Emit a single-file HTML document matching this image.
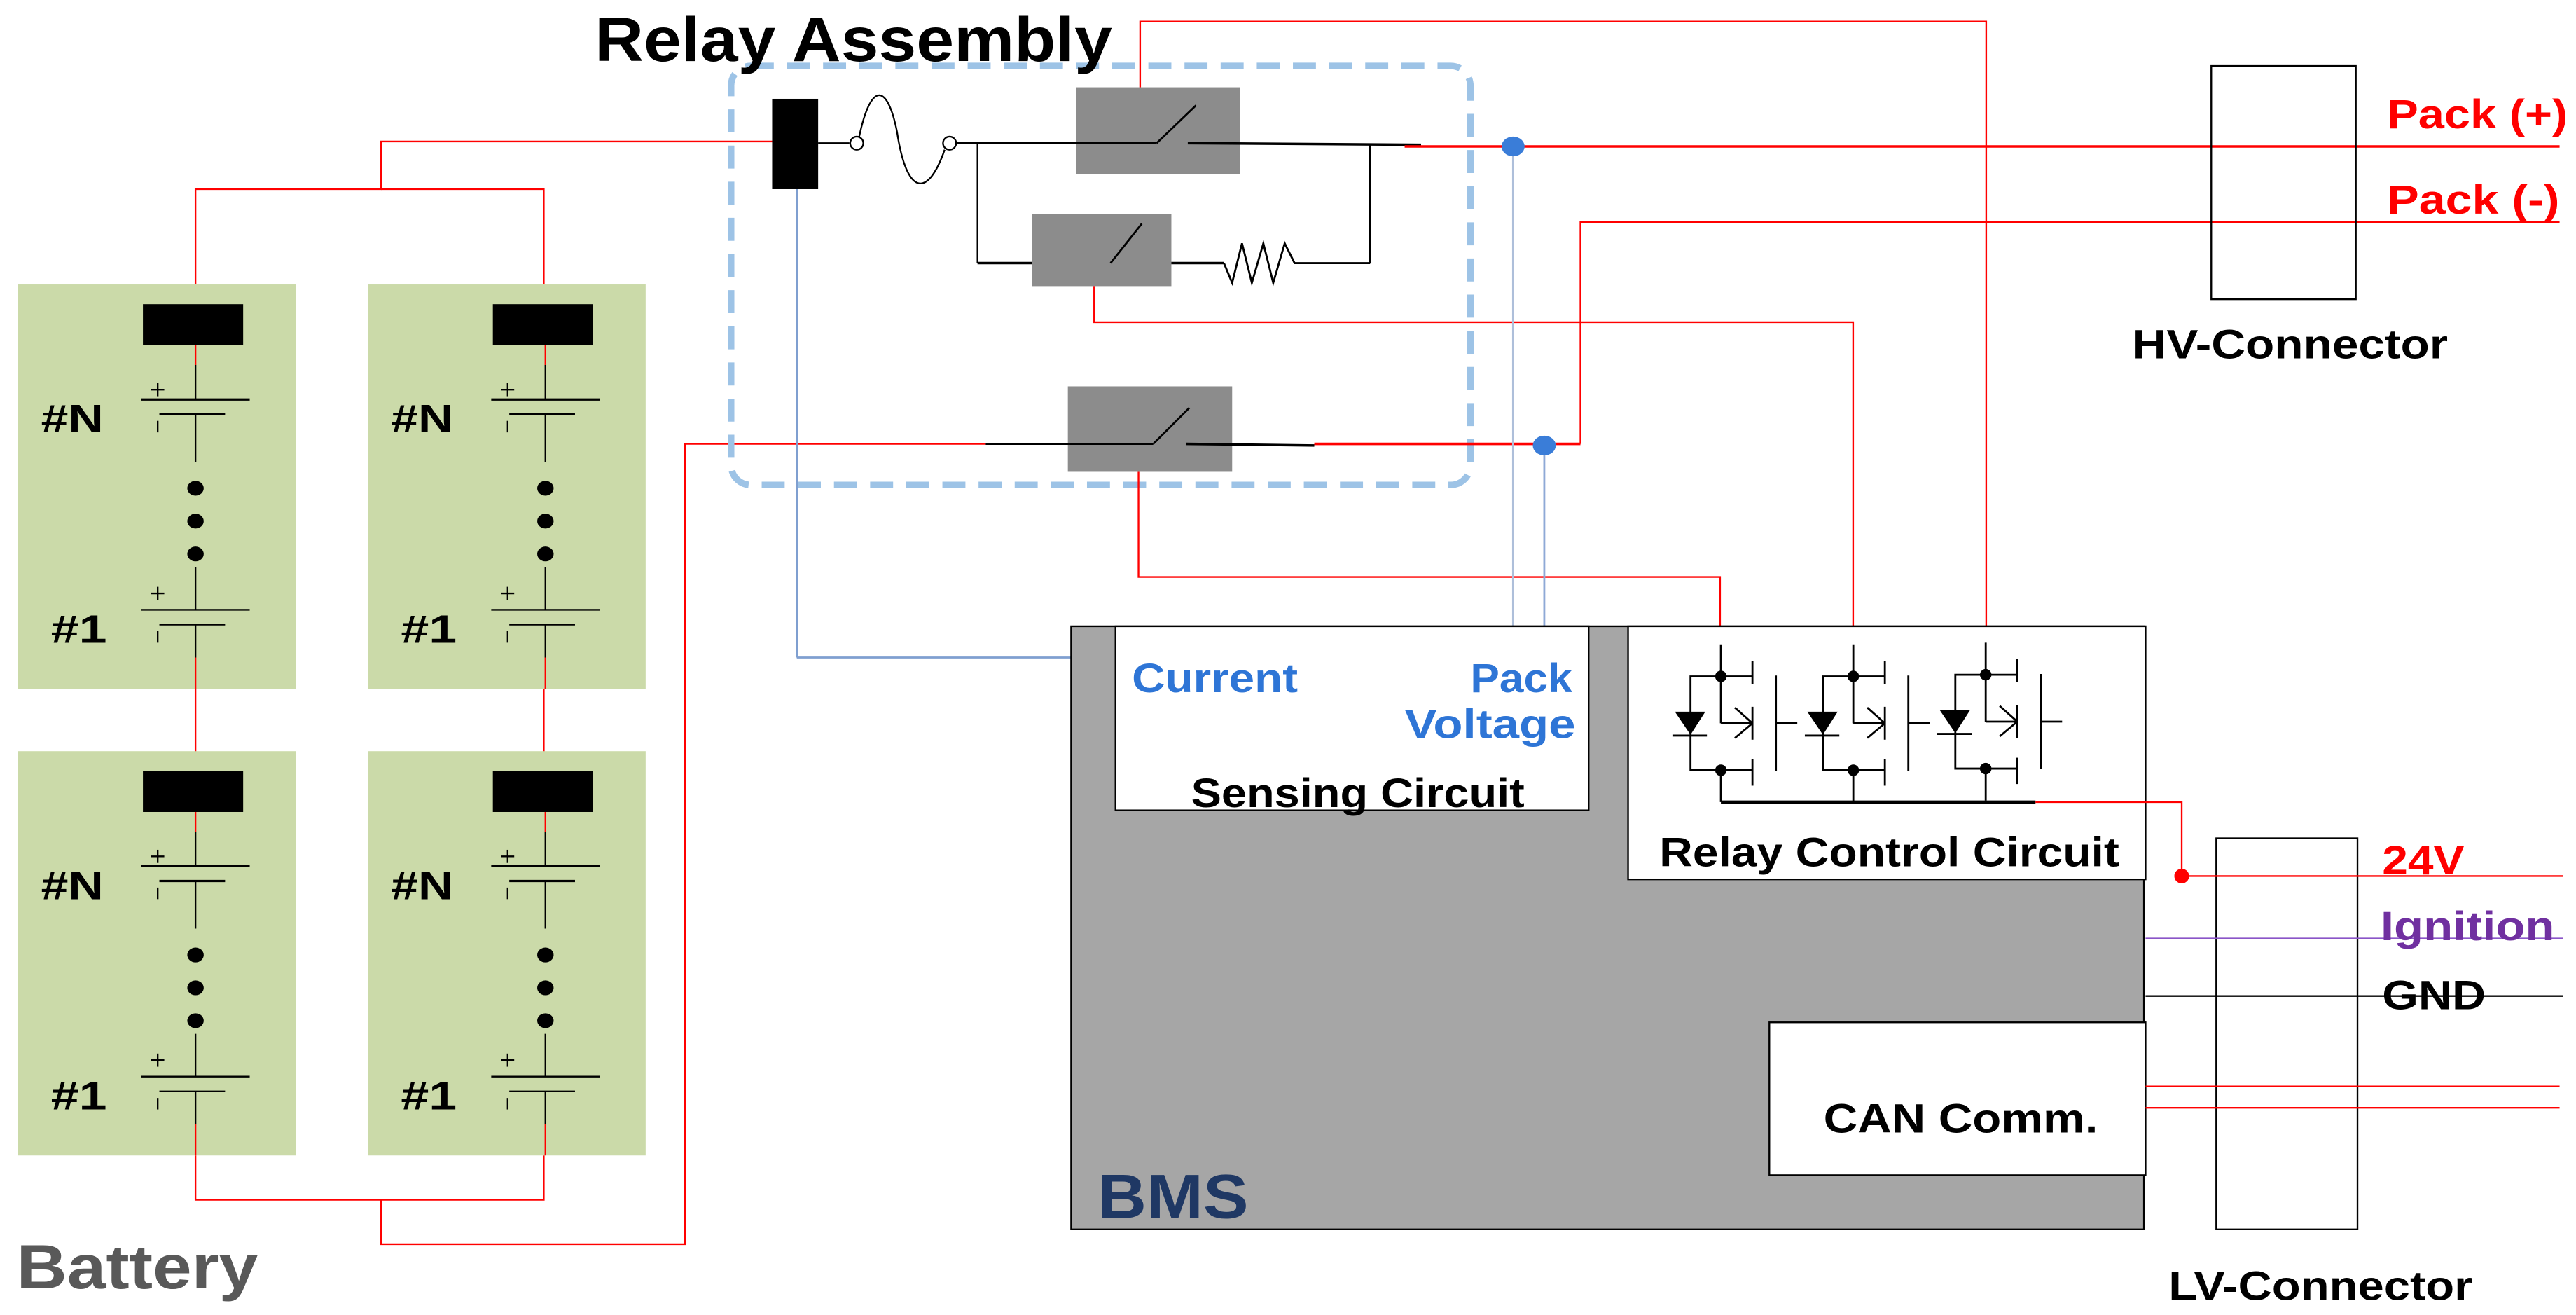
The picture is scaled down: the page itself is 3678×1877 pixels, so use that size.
<!DOCTYPE html>
<html><head><meta charset="utf-8"><style>
html,body{margin:0;padding:0;background:#fff}
svg{display:block}
text{font-family:"Liberation Sans",sans-serif;font-weight:bold}
</style></head><body>
<svg width="3678" height="1877" viewBox="0 0 1568 800" xmlns="http://www.w3.org/2000/svg">
<defs>
<g id="cell">
<rect x="11" y="173" width="169" height="246" fill="#cbdaa9"/>
<rect x="87" y="185" width="61" height="25" fill="#000"/>
<line x1="119" y1="210" x2="119" y2="222" stroke="#f00" stroke-width="1"/>
<g stroke="#000" stroke-width="1" fill="none">
<line x1="119" y1="222" x2="119" y2="243"/>
<line x1="86" y1="243" x2="152" y2="243" stroke-width="1.4"/>
<line x1="97" y1="252" x2="137" y2="252" stroke-width="1.4"/>
<line x1="119" y1="252" x2="119" y2="281"/>
<line x1="92" y1="237" x2="100" y2="237"/><line x1="96" y1="233" x2="96" y2="241"/>
<line x1="96" y1="256" x2="96" y2="263"/>
<line x1="119" y1="345" x2="119" y2="371"/>
<line x1="86" y1="371" x2="152" y2="371"/>
<line x1="97" y1="380" x2="137" y2="380"/>
<line x1="119" y1="380" x2="119" y2="400"/>
<line x1="92" y1="361" x2="100" y2="361"/><line x1="96" y1="357" x2="96" y2="365"/>
<line x1="96" y1="384" x2="96" y2="391"/>
</g>
<line x1="119" y1="400" x2="119" y2="419" stroke="#f00"/>
<ellipse cx="119" cy="297" rx="5" ry="4.5"/>
<ellipse cx="119" cy="317" rx="5" ry="4.5"/>
<ellipse cx="119" cy="337" rx="5" ry="4.5"/>
<text x="25" y="263" font-size="24" textLength="38" lengthAdjust="spacingAndGlyphs">#N</text>
<text x="31" y="391" font-size="24" textLength="34" lengthAdjust="spacingAndGlyphs">#1</text>
</g>
<g id="drv" stroke="#000" fill="none" stroke-width="1.2">
<polyline points="1047.5,392 1047.5,411.5 1029,411.5 1029,468.6 1047.5,468.6 1047.5,488"/>
<line x1="1047.5" y1="411.5" x2="1066.7" y2="411.5"/>
<line x1="1047.5" y1="468.6" x2="1066.7" y2="468.6"/>
<polygon points="1019.5,433 1038,433 1029,447" fill="#000" stroke="none"/>
<line x1="1018" y1="447.5" x2="1039" y2="447.5"/>
<line x1="1047.5" y1="411.5" x2="1047.5" y2="440"/>
<line x1="1047.5" y1="440" x2="1066.7" y2="440"/>
<line x1="1056" y1="430.5" x2="1066.7" y2="440"/><line x1="1056" y1="449" x2="1066.7" y2="440"/>
<line x1="1066.7" y1="402" x2="1066.7" y2="416"/>
<line x1="1066.7" y1="430" x2="1066.7" y2="450"/>
<line x1="1066.7" y1="462" x2="1066.7" y2="478"/>
<line x1="1081" y1="411" x2="1081" y2="469"/>
<line x1="1081" y1="440" x2="1094" y2="440"/>
<circle cx="1047.5" cy="411.5" r="3.5" fill="#000" stroke="none"/>
<circle cx="1047.5" cy="468.6" r="3.5" fill="#000" stroke="none"/>
</g>
</defs>

<g stroke="#f00" fill="none" stroke-width="1">
<polyline points="470,86 232,86 232,115 119,115 119,173"/>
<polyline points="232,115 331,115 331,173"/>
<line x1="119" y1="419" x2="119" y2="458"/>
<line x1="331" y1="419" x2="331" y2="458"/>
<polyline points="119,703 119,730 331,730 331,703"/>
<polyline points="232,730 232,757 417,757 417,270 600,270"/>
</g>
<use href="#cell"/>
<use href="#cell" transform="translate(213,0)"/>
<use href="#cell" transform="translate(0,284)"/>
<use href="#cell" transform="translate(213,284)"/>
<text x="10" y="784" font-size="38" fill="#595959" textLength="147" lengthAdjust="spacingAndGlyphs">Battery</text>

<rect x="445" y="40" width="450" height="255" rx="12" fill="none" stroke="#9dc3e6" stroke-width="4" stroke-dasharray="14,8"/>
<text x="362" y="37" font-size="38" fill="#000" textLength="315" lengthAdjust="spacingAndGlyphs">Relay Assembly</text>
<line x1="485" y1="115" x2="485" y2="400" stroke="#7f9fd0" stroke-width="1.2"/>
<polyline points="485,400 679,400" stroke="#7f9fd0" fill="none" stroke-width="1.2"/>
<rect x="470" y="60" width="28" height="55" fill="#000"/>
<g stroke="#000" fill="none" stroke-width="1">
<line x1="498" y1="87" x2="517" y2="87"/>
<circle cx="521.5" cy="87" r="4" fill="#fff"/>
<path d="M523,83 C530,50 540,50 546,80 C552,120 565,120 575,91"/>
<circle cx="578" cy="87" r="4" fill="#fff"/>
<line x1="582" y1="87" x2="705" y2="87"/>
<line x1="595" y1="87" x2="595" y2="160"/>
<line x1="595" y1="160" x2="676" y2="160" stroke-width="1.5"/>
</g>
<rect x="655" y="53" width="100" height="53" fill="#8c8c8c"/>
<rect x="628" y="130" width="85" height="44" fill="#8c8c8c"/>
<rect x="650" y="235" width="100" height="52" fill="#8c8c8c"/>
<g stroke="#000" fill="none" stroke-width="1.2">
<line x1="582" y1="87" x2="704" y2="87"/>
<line x1="704" y1="87" x2="728" y2="64"/>
<line x1="723" y1="87" x2="865" y2="88" stroke-width="1.5"/>
<line x1="834" y1="88" x2="834" y2="160"/>
<line x1="676" y1="160" x2="695" y2="136"/>
<line x1="713" y1="160" x2="745" y2="160" stroke-width="1.5"/>
<polyline points="745,160 750,172 756,148 762,172 769,148 775,172 782,148 788,160 834,160"/>
<line x1="600" y1="270" x2="702" y2="270"/>
<line x1="702" y1="270" x2="724" y2="248"/>
<line x1="722" y1="270" x2="800" y2="271" stroke-width="1.5"/>
</g>
<g stroke="#f00" fill="none" stroke-width="1">
<line x1="855" y1="89" x2="1558" y2="89" stroke-width="1.5"/>
<line x1="800" y1="270" x2="962" y2="270" stroke-width="1.5"/>
<polyline points="962,270 962,135 1558,135"/>
<polyline points="694,53 694,13 1209,13 1209,392"/>
<polyline points="666,174 666,196 1128,196 1128,392"/>
<polyline points="693,287 693,351 1047,351 1047,392"/>
</g>
<line x1="921" y1="89" x2="921" y2="381" stroke="#aebfda" stroke-width="1.2"/>
<line x1="940" y1="271" x2="940" y2="381" stroke="#8ea9d6" stroke-width="1.2"/>
<ellipse cx="921" cy="89" rx="7" ry="6" fill="#3a7dd8"/>
<ellipse cx="940" cy="271" rx="7" ry="6" fill="#3a7dd8"/>

<rect x="1346" y="40" width="88" height="142" fill="none" stroke="#000" stroke-width="1"/>
<text x="1453" y="78" font-size="25" fill="#f00" textLength="110" lengthAdjust="spacingAndGlyphs">Pack (+)</text>
<text x="1453" y="130" font-size="25" fill="#f00" textLength="105" lengthAdjust="spacingAndGlyphs">Pack (-)</text>
<text x="1298" y="218" font-size="25" fill="#000" textLength="192" lengthAdjust="spacingAndGlyphs">HV-Connector</text>

<rect x="652" y="381" width="653" height="367" fill="#a6a6a6" stroke="#000" stroke-width="1"/>
<rect x="679" y="381" width="288" height="112" fill="#fff" stroke="#000" stroke-width="1"/>
<rect x="991" y="381" width="315" height="154" fill="#fff" stroke="#000" stroke-width="1"/>
<rect x="1077" y="622" width="229" height="93" fill="#fff" stroke="#000" stroke-width="1"/>
<text x="689" y="421" font-size="25" fill="#2e75d6" textLength="101" lengthAdjust="spacingAndGlyphs">Current</text>
<text x="895" y="421" font-size="25" fill="#2e75d6" textLength="62" lengthAdjust="spacingAndGlyphs">Pack</text>
<text x="855" y="449" font-size="25" fill="#2e75d6" textLength="104" lengthAdjust="spacingAndGlyphs">Voltage</text>
<text x="725" y="491" font-size="25" fill="#000" textLength="203" lengthAdjust="spacingAndGlyphs">Sensing Circuit</text>
<text x="1010" y="527" font-size="25" fill="#000" textLength="280" lengthAdjust="spacingAndGlyphs">Relay Control Circuit</text>
<text x="1110" y="689" font-size="25" fill="#000" textLength="167" lengthAdjust="spacingAndGlyphs">CAN Comm.</text>
<text x="668" y="741" font-size="38" fill="#1f3864" textLength="92" lengthAdjust="spacingAndGlyphs">BMS</text>

<use href="#drv"/>
<use href="#drv" transform="translate(80.6,0)"/>
<use href="#drv" transform="translate(161.2,-1)"/>
<line x1="1047.5" y1="488" x2="1239" y2="488" stroke="#000" stroke-width="2"/>

<rect x="1349" y="510" width="86" height="238" fill="none" stroke="#000" stroke-width="1"/>
<polyline points="1239,488 1328,488 1328,533" stroke="#f00" fill="none" stroke-width="1"/>
<line x1="1328" y1="533" x2="1560" y2="533" stroke="#f00" stroke-width="1"/>
<circle cx="1328" cy="533" r="4.5" fill="#f00"/>
<line x1="1306" y1="571" x2="1560" y2="571" stroke="#8a55c8" stroke-width="1"/>
<line x1="1306" y1="606" x2="1560" y2="606" stroke="#000" stroke-width="1"/>
<line x1="1306" y1="661" x2="1558" y2="661" stroke="#f00" stroke-width="1"/>
<line x1="1306" y1="674" x2="1558" y2="674" stroke="#f00" stroke-width="1"/>
<text x="1450" y="532" font-size="25" fill="#f00" textLength="50" lengthAdjust="spacingAndGlyphs">24V</text>
<text x="1449" y="572" font-size="25" fill="#7030a0" textLength="106" lengthAdjust="spacingAndGlyphs">Ignition</text>
<text x="1450" y="614" font-size="25" fill="#000" textLength="63" lengthAdjust="spacingAndGlyphs">GND</text>
<text x="1320" y="791" font-size="25" fill="#000" textLength="185" lengthAdjust="spacingAndGlyphs">LV-Connector</text>
</svg>
</body></html>
